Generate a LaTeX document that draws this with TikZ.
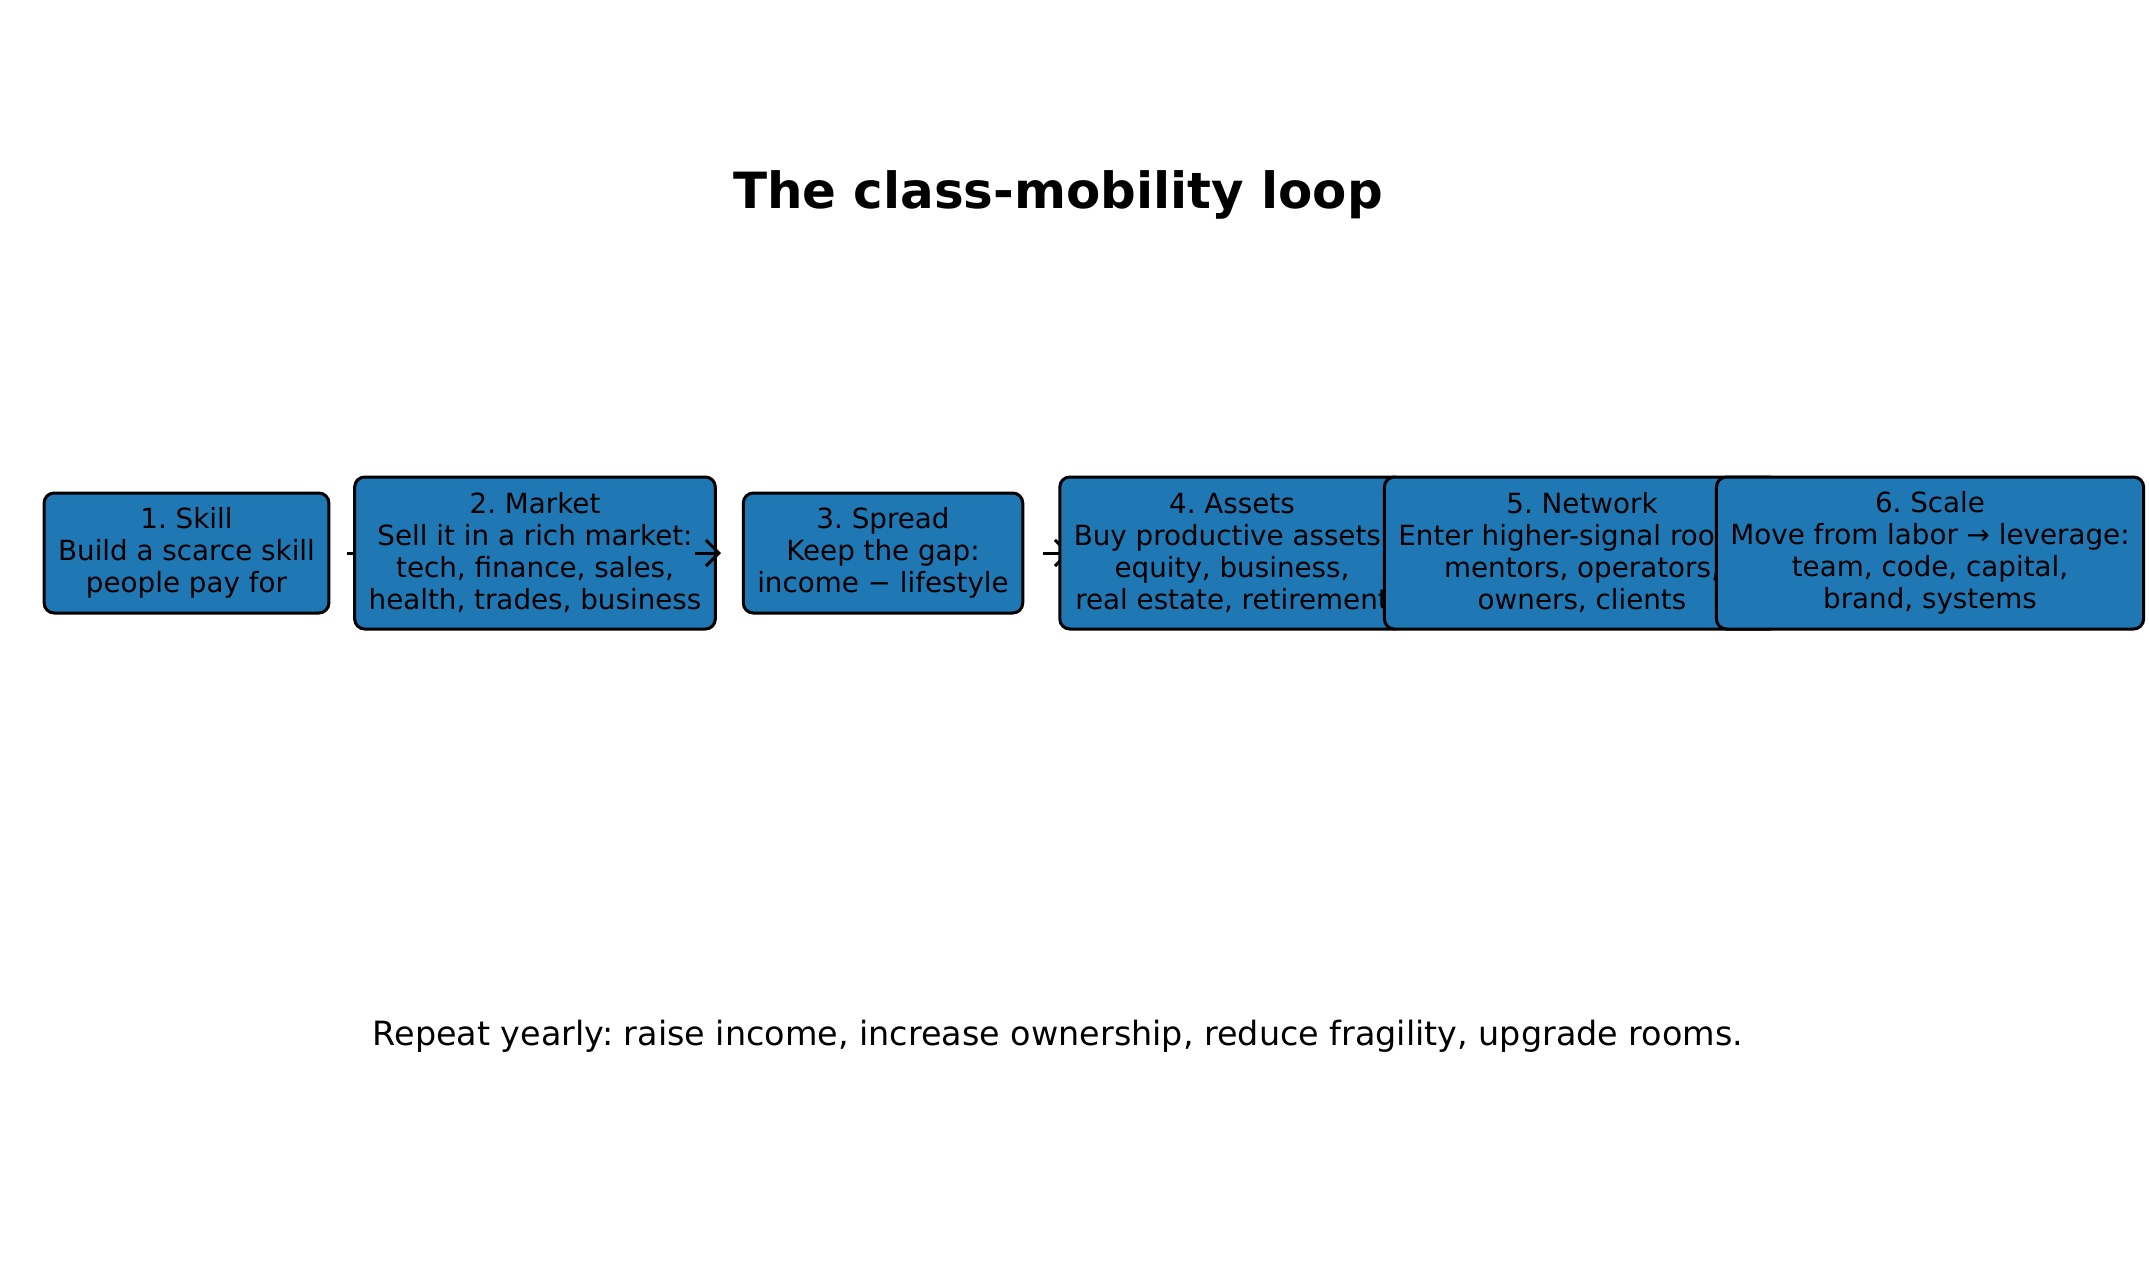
\documentclass[tikz,border=0pt]{standalone}
\usepackage{fontspec}
\setmainfont{DejaVu Sans}
\frenchspacing
\usetikzlibrary{arrows.meta,calc}
\definecolor{LoopBlue}{HTML}{1F77B4}
\tikzset{
  link/.style={-{Straight Barb[length=1.3mm,width=2.6mm]}, line width=0.3mm, draw=black},
  stepbox/.style={rounded corners=1mm, draw=black, fill=LoopBlue, line width=0.3mm,
                  align=center, inner xsep=1.4mm, inner ysep=0pt,
                  font=\fontsize{7.9}{9.1}\selectfont},
  shortbox/.style={stepbox, minimum height=12mm},
  tallbox/.style={stepbox, minimum height=15.2mm},
  headline/.style={inner sep=0pt, font=\bfseries\fontsize{14.2}{17}\selectfont},
  footline/.style={inner sep=0pt, font=\fontsize{9.5}{11}\selectfont},
}

\begin{document}
\begin{tikzpicture}[x=0.1mm,y=-0.1mm]
  \useasboundingbox (0,0) rectangle (2149,1280);
  \coordinate (c1) at (186.5,553);
  \coordinate (c2) at (535,553);
  \coordinate (c3) at (883,553);
  \coordinate (c4) at (1232,553);
  \coordinate (c5) at (1582,553);
  \coordinate (c6) at (1930,553);
  \node[headline] (title) at (1058,195) {The class-mobility loop};
  \node[shortbox] (skill) at (c1) {1. Skill\\Build a scarce skill\\people pay for};
  \draw[link] ($(c1)+(160,0)$) -- ($(c2)+(-162,0)$);
  \node[tallbox] (market) at (c2) {2. Market\\Sell it in a rich market:\\tech, finance, sales,\\health, trades, business};
  \draw[link] ($(c2)+(160,0)$) -- ($(c3)+(-162,0)$);
  \node[shortbox] (spread) at (c3) {3. Spread\\Keep the gap:\\income − lifestyle};
  \draw[link] ($(c3)+(160,0)$) -- ($(c4)+(-162,0)$);
  \node[tallbox] (assets) at (c4) {4. Assets\\Buy productive assets:\\equity, business,\\real estate, retirement};
  \draw[link] ($(c4)+(160,0)$) -- ($(c5)+(-162,0)$);
  \node[tallbox] (network) at (c5) {5. Network\\Enter higher-signal rooms:\\mentors, operators,\\owners, clients};
  \draw[link] ($(c5)+(160,0)$) -- ($(c6)+(-162,0)$);
  \node[tallbox] (scale) at (c6) {6. Scale\\Move from labor → leverage:\\team, code, capital,\\brand, systems};
  \node[footline] (repeat) at (1058,1036) {Repeat yearly: raise income, increase ownership, reduce fragility, upgrade rooms.};
\end{tikzpicture}
\end{document}
